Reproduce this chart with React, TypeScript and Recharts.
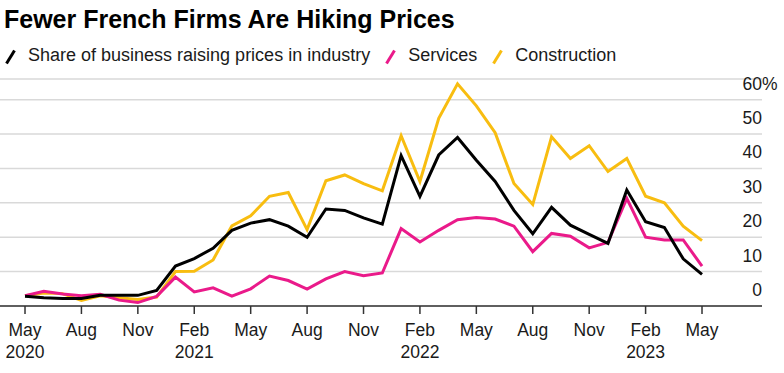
import { LineChart, Line, XAxis, YAxis, CartesianGrid } from "recharts";

// Monthly observations, May 2020 .. May 2023
const months = [
  "2020-05", "2020-06", "2020-07", "2020-08", "2020-09", "2020-10", "2020-11", "2020-12",
  "2021-01", "2021-02", "2021-03", "2021-04", "2021-05", "2021-06", "2021-07", "2021-08",
  "2021-09", "2021-10", "2021-11", "2021-12", "2022-01", "2022-02", "2022-03", "2022-04",
  "2022-05", "2022-06", "2022-07", "2022-08", "2022-09", "2022-10", "2022-11", "2022-12",
  "2023-01", "2023-02", "2023-03", "2023-04", "2023-05",
];

const industry = [
  2.8, 2.4, 2.2, 2.2, 3.1, 3.1, 3.1, 4.5, 11.6, 13.8, 16.8, 22.0, 24.1, 25.1, 23.2, 20.0,
  28.2, 27.8, 25.6, 23.8, 43.7, 31.9, 43.9, 49.0, 42.4, 36.2, 27.8, 21.0, 28.7, 23.5, 20.8, 18.2,
  33.7, 24.5, 22.8, 13.7, 9.2,
];

const services = [
  3.0, 4.3, 3.5, 3.0, 3.4, 1.7, 1.0, 2.8, 8.4, 4.1, 5.3, 2.9, 5.0, 8.7, 7.4, 4.9,
  7.9, 10.0, 8.8, 9.6, 22.5, 18.6, 22.0, 25.1, 25.7, 25.3, 23.2, 15.8, 21.1, 20.3, 16.9, 18.5,
  31.3, 20.0, 19.2, 19.2, 11.6,
];

const construction = [
  3.0, 3.8, 3.6, 1.6, 3.0, 2.4, 1.9, 2.6, 10.0, 10.1, 13.4, 23.3, 26.2, 31.9, 33.0, 22.2,
  36.4, 38.1, 35.6, 33.5, 49.5, 36.2, 54.6, 64.6, 58.2, 50.4, 35.6, 29.5, 49.2, 42.9, 46.6, 39.1,
  42.9, 31.9, 30.0, 23.2, 19.0,
];

// x ticks every third month (index into months)
const xTickIdx = [0, 3, 6, 9, 12, 15, 18, 21, 24, 27, 30, 33, 36];
const xTickMonth = ["May", "Aug", "Nov", "Feb", "May", "Aug", "Nov", "Feb", "May", "Aug", "Nov", "Feb", "May"];
const xTickYear = ["2020", "", "", "2021", "", "", "", "2022", "", "", "", "2023", ""];

const yTicks = [0, 10, 20, 30, 40, 50, 60];

const COLORS = {
  industry: "#000000",
  services: "#ea1a8a",
  construction: "#f8bd10",
};

const FONT = "'Liberation Sans', Arial, sans-serif";

const rows = months.map((m, i) => ({
  idx: i,
  month: m,
  industry: industry[i],
  services: services[i],
  construction: construction[i],
}));

function MonthTick({ x, y, payload }: any) {
  const k = xTickIdx.indexOf(payload.value);
  if (k < 0) return null;
  return (
    <text x={x} y={y} textAnchor="middle" fontSize={17.5} fill="#1a1a1a" fontFamily={FONT}>
      <tspan x={x} dy={22}>{xTickMonth[k]}</tspan>
      {xTickYear[k] && <tspan x={x} dy={21.5}>{xTickYear[k]}</tspan>}
    </text>
  );
}

function ValueTick({ x, y, payload }: any) {
  const top = payload.value === yTicks[yTicks.length - 1];
  return (
    <g>
      <text x={x} y={y - 10} textAnchor="end" fontSize={17.5} fill="#1a1a1a" fontFamily={FONT}>
        {payload.value}
      </text>
      {top && (
        <text x={x} y={y - 10} textAnchor="start" fontSize={17.5} fill="#1a1a1a" fontFamily={FONT}>
          %
        </text>
      )}
    </g>
  );
}

function Slash({ color }: { color: string }) {
  return (
    <svg width={11} height={16} style={{ display: "block", marginTop: 2 }}>
      <line x1={1.5} y1={14.5} x2={9.5} y2={1.5} stroke={color} strokeWidth={3} />
    </svg>
  );
}

const legendItems = [
  { label: "Share of business raising prices in industry", color: COLORS.industry },
  { label: "Services", color: COLORS.services },
  { label: "Construction", color: COLORS.construction },
];

export default function App() {
  return (
    <div style={{ position: "absolute", left: 0, top: 0, width: 784, height: 373, background: "#fff", fontFamily: FONT }}>
      <div style={{ position: "absolute", left: 4, top: 5, fontSize: 25, fontWeight: 700, color: "#000", whiteSpace: "nowrap" }}>
        Fewer French Firms Are Hiking Prices
      </div>
      <div style={{ position: "absolute", left: 5, top: 45, display: "flex", alignItems: "center", fontSize: 18, color: "#1a1a1a", whiteSpace: "nowrap" }}>
        {legendItems.map((it) => (
          <div key={it.label} style={{ display: "flex", alignItems: "center", marginRight: 15 }}>
            <Slash color={it.color} />
            <span style={{ marginLeft: 12 }}>{it.label}</span>
          </div>
        ))}
      </div>
      <LineChart
        width={784}
        height={373}
        data={rows}
        margin={{ top: 79, right: 0, bottom: 0, left: 0 }}
      >
        <CartesianGrid vertical={false} stroke="#d9d9d9" strokeWidth={1.5} />
        <XAxis
          dataKey="idx"
          type="number"
          domain={[-1.33, 39.19]}
          ticks={xTickIdx}
          tick={<MonthTick />}
          tickSize={8}
          tickMargin={0}
          tickLine={{ stroke: "#333", strokeWidth: 1.5 }}
          axisLine={{ stroke: "#333", strokeWidth: 1.5 }}
          interval={0}
          height={67}
        />
        <YAxis
          orientation="right"
          domain={[0, 66]}
          ticks={yTicks}
          tick={<ValueTick />}
          tickSize={0}
          tickMargin={0}
          axisLine={false}
          tickLine={false}
          width={22}
          interval={0}
        />
        <Line type="linear" dataKey="construction" stroke={COLORS.construction} strokeWidth={3} dot={false} isAnimationActive={false} />
        <Line type="linear" dataKey="services" stroke={COLORS.services} strokeWidth={3} dot={false} isAnimationActive={false} />
        <Line type="linear" dataKey="industry" stroke={COLORS.industry} strokeWidth={3} dot={false} isAnimationActive={false} />
      </LineChart>
    </div>
  );
}
